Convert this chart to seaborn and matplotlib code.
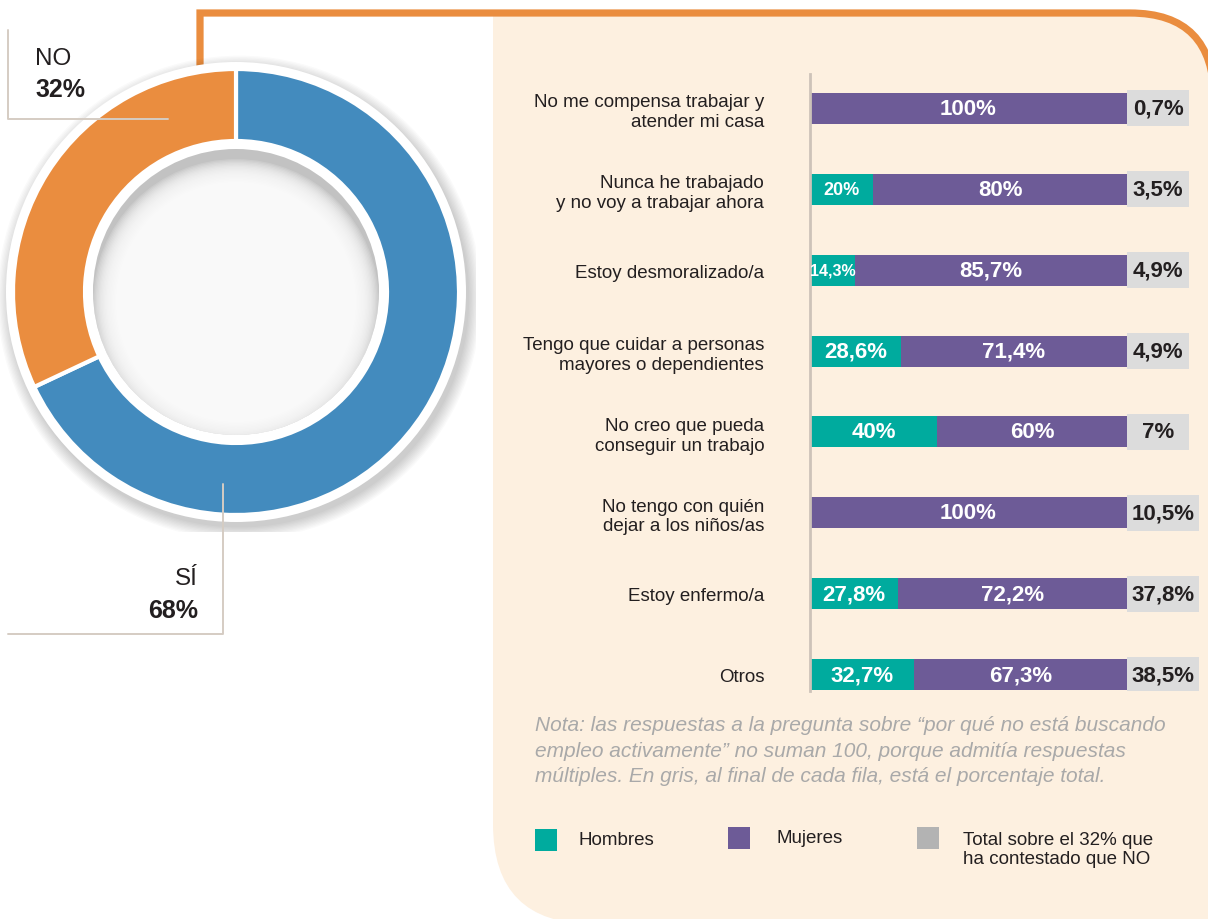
import matplotlib
matplotlib.use("Agg")
import matplotlib.pyplot as plt
import pandas as pd
import seaborn as sns
from matplotlib import font_manager
from matplotlib.patches import Circle, PathPatch, Rectangle
from matplotlib.path import Path

W, H = 1208, 920

# donut: did you answer yes/no
respuesta = ["SÍ", "NO"]
respuesta_pct = [68, 32]

# reasons for not looking for a job
motivos = [
    "No me compensa trabajar y\natender mi casa",
    "Nunca he trabajado\ny no voy a trabajar ahora",
    "Estoy desmoralizado/a",
    "Tengo que cuidar a personas\nmayores o dependientes",
    "No creo que pueda\nconseguir un trabajo",
    "No tengo con quién\ndejar a los niños/as",
    "Estoy enfermo/a",
    "Otros",
]
hombres = [0, 20, 14.3, 28.6, 40, 0, 27.8, 32.7]
mujeres = [100, 80, 85.7, 71.4, 60, 100, 72.2, 67.3]
total = [0.7, 3.5, 4.9, 4.9, 7, 10.5, 37.8, 38.5]

leyenda = ["Hombres", "Mujeres", "Total sobre el 32% que\nha contestado que NO"]
nota = [
    "Nota: las respuestas a la pregunta sobre “por qué no está buscando",
    "empleo activamente” no suman 100, porque admitía respuestas",
    "múltiples. En gris, al final de cada fila, está el porcentaje total.",
]

BLUE = "#438bbe"
ORANGE = "#ea8d3f"
CREAM = "#fdf0e0"
TEAL = "#00ab9e"
PURPLE = "#6d5b97"
BOX = "#dcdcdc"
LEGEND_GREY = "#b3b3b3"
LINE = "#d5ccc3"
DARK = "#231f20"

sns.set_theme(style="white")
plt.rcParams["font.family"] = ["Liberation Sans", "DejaVu Sans"]
installed = {f.name for f in font_manager.fontManager.ttflist}
narrow = "Liberation Sans Narrow" if "Liberation Sans Narrow" in installed else "Liberation Sans"


def pct(v):
    return f"{v:g}".replace(".", ",") + "%"


def box(x0, y0, x1, y1):
    return [x0 / W, 1 - y1 / H, (x1 - x0) / W, (y1 - y0) / H]


fig = plt.figure(figsize=(W / 100, H / 100), dpi=100)
fig.patch.set_facecolor("white")

# background: cream panel + orange frame line
ax_bg = fig.add_axes([0, 0, 1, 1])
ax_bg.set_xlim(0, W)
ax_bg.set_ylim(H, 0)
ax_bg.axis("off")

panel = Path(
    [(493, 17), (1130, 17), (1216, 17), (1216, 105), (1216, 925),
     (593, 925), (493, 925), (493, 825), (493, 17)],
    [Path.MOVETO, Path.LINETO, Path.CURVE3, Path.CURVE3, Path.LINETO,
     Path.LINETO, Path.CURVE3, Path.CURVE3, Path.CLOSEPOLY],
)
ax_bg.add_patch(PathPatch(panel, facecolor=CREAM, edgecolor="none"))

frame = Path(
    [(200, 80), (200, 14), (1130, 14), (1214, 14), (1214, 100), (1214, 140)],
    [Path.MOVETO, Path.LINETO, Path.LINETO, Path.CURVE3, Path.CURVE3, Path.LINETO],
)
ax_bg.add_patch(PathPatch(frame, facecolor="none", edgecolor=ORANGE, lw=5.2,
                          capstyle="butt", joinstyle="miter"))

# donut
R = 223
ax_pie = fig.add_axes(box(236 - 240, 293 - 240, 236 + 240, 293 + 240))
lim = 240 / R
ax_pie.set_xlim(-lim, lim)
ax_pie.set_ylim(-lim, lim)
ax_pie.set_aspect("equal")
ax_pie.axis("off")

for k in range(10):
    ax_pie.add_patch(Circle((0.015, -0.025), 1.085 - 0.006 * k,
                            facecolor="black", edgecolor="none", alpha=0.02))
ax_pie.add_patch(Circle((0, 0), 230 / R, facecolor="white", edgecolor="none"))
ax_pie.pie(
    respuesta_pct,
    colors=[BLUE, ORANGE],
    startangle=90,
    counterclock=False,
    radius=1,
    wedgeprops=dict(width=(R - 151) / R, edgecolor="white", linewidth=3),
)
ax_pie.set_xlim(-lim, lim)
ax_pie.set_ylim(-lim, lim)
ax_pie.add_patch(Circle((0, 0), 151 / R, facecolor="white", edgecolor="none"))
hole = Circle((0, 0), 143 / R, facecolor="#c2c2c2", edgecolor="none")
ax_pie.add_patch(hole)
for k in range(22):
    c = Circle((0, -0.045), 143 / R - 0.006 * k, facecolor="white",
               edgecolor="none", alpha=0.15)
    ax_pie.add_patch(c)
    c.set_clip_path(hole)

# stacked bars
df = pd.DataFrame({"motivo": motivos, "hombres": hombres, "mujeres": mujeres, "total": total})
df["suma"] = df["hombres"] + df["mujeres"]

PX = 3.17          # pixels per percentage point
ROW = 80.86        # pixels between rows
ax_bar = fig.add_axes(box(810, 75, 1210, 692))
sns.barplot(data=df, x="suma", y="motivo", orient="h", color=PURPLE, saturation=1,
            width=31 / ROW, errorbar=None, linewidth=0, ax=ax_bar)
sns.barplot(data=df, x="hombres", y="motivo", orient="h", color=TEAL, saturation=1,
            width=31 / ROW, errorbar=None, linewidth=0, ax=ax_bar)
box_w = [(62 if len(pct(t)) <= 4 else 72) / PX for t in df["total"]]
ax_bar.barh(range(len(df)), box_w, left=100, height=36 / ROW, color=BOX,
            linewidth=0, zorder=1)

for i, row in df.iterrows():
    h, m = row["hombres"], row["mujeres"]
    if h > 0:
        small = h < 25
        size = 16 if not small else (13 if len(pct(h)) <= 3 else 11.5)
        ax_bar.text(h / 2, i, pct(h), ha="center", va="center", color="white",
                    fontweight="bold", fontsize=size,
                    family=narrow if small else "Liberation Sans")
    ax_bar.text(h + m / 2, i, pct(m), ha="center", va="center", color="white",
                fontweight="bold", fontsize=16)
    ax_bar.text(100 + box_w[i] / 2, i, pct(row["total"]), ha="center", va="center",
                color=DARK, fontweight="bold", fontsize=16)

ax_bar.set_xlim(0, 400 / PX)
ax_bar.set_ylim(7 + (692 - 675.5) / ROW, -(109.5 - 75) / ROW)
ax_bar.set_xlabel("")
ax_bar.set_ylabel("")
ax_bar.set_facecolor("none")
ax_bar.tick_params(axis="y", length=0, pad=33, labelsize=13.5, labelcolor=DARK)
ax_bar.tick_params(axis="x", bottom=False, labelbottom=False)
for s in ["top", "right", "bottom"]:
    ax_bar.spines[s].set_visible(False)
ax_bar.spines["left"].set_color("#cdc3b9")
ax_bar.spines["left"].set_linewidth(2)

# overlay: leader lines, donut labels, note and legend
ax_top = fig.add_axes([0, 0, 1, 1])
ax_top.set_xlim(0, W)
ax_top.set_ylim(H, 0)
ax_top.axis("off")

ax_top.plot([7.5, 7.5, 168], [31, 120, 120], color=LINE, lw=1.4)
ax_top.plot([223, 223, 8], [485, 635, 635], color=LINE, lw=1.4)
ax_top.text(35, 59, respuesta[1], fontsize=17.5, color=DARK, va="center")
ax_top.text(35, 90, pct(respuesta_pct[1]), fontsize=18, color=DARK, va="center",
            fontweight="bold")
ax_top.text(198, 579, respuesta[0], fontsize=17.5, color=DARK, va="center", ha="right")
ax_top.text(198, 611, pct(respuesta_pct[0]), fontsize=18, color=DARK, va="center",
            ha="right", fontweight="bold")

for j, line in enumerate(nota):
    ax_top.text(535, 726 + 25.5 * j, line, fontsize=15, color="#a9a9a9",
                style="italic", va="center")

squares = [(535, 830), (728, 828), (917, 828)]
text_pos = [(578, 841), (776, 839), (963, 850)]
for (sx, sy), (tx, ty), lab, col in zip(squares, text_pos, leyenda,
                                         [TEAL, PURPLE, LEGEND_GREY]):
    ax_top.add_patch(Rectangle((sx, sy), 22, 22, facecolor=col, edgecolor="none"))
    ax_top.text(tx, ty, lab, fontsize=13.5, color=DARK, va="center", linespacing=1.15)

fig.savefig("out.png", dpi=100)
